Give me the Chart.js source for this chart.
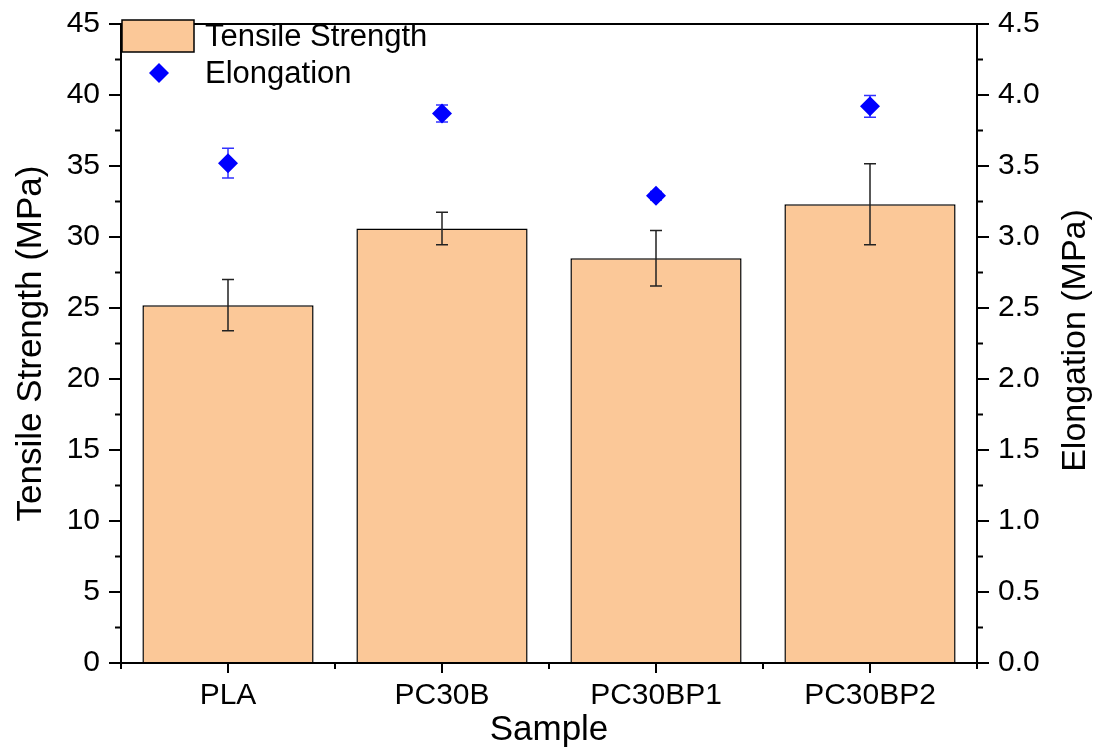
<!DOCTYPE html>
<html lang="en">

<head>
    <meta charset="UTF-8">
    <title>Tensile Strength and Elongation</title>
    <script src="https://cdn.jsdelivr.net/npm/chart.js"></script>
    <style>
        html, body { margin: 0; padding: 0; background: #fff; }
    </style>
</head>

<body>
    <canvas id="myChart" width="1098" height="753"></canvas>
    <script>
        const samples = ['PLA', 'PC30B', 'PC30BP1', 'PC30BP2'];
        const tensile = [25.2, 30.6, 28.5, 32.3];
        const tensileErr = [1.8, 1.15, 1.95, 2.85];
        const elongation = [3.52, 3.87, 3.29, 3.92];
        const elongationErr = [0.105, 0.06, 0.03, 0.077];

        const FONT = '"Liberation Sans", Arial, sans-serif';
        const barColor = 'rgb(251, 200, 152)';

        // error bars, minor ticks, top frame, legend and right-hand title
        const extras = {
            id: 'extras',
            afterDatasetDraw(chart, args) {
                if (args.index !== 0) return;
                const ctx = chart.ctx;
                const x = chart.scales.x, y = chart.scales.y, y2 = chart.scales.y2;
                const cap = 6;
                ctx.save();
                ctx.lineWidth = 1.5;
                ctx.strokeStyle = '#222';
                tensile.forEach((v, i) => {
                    const px = x.getPixelForValue(i);
                    const hi = y.getPixelForValue(v + tensileErr[i]);
                    const lo = y.getPixelForValue(v - tensileErr[i]);
                    ctx.beginPath();
                    ctx.moveTo(px, hi); ctx.lineTo(px, lo);
                    ctx.moveTo(px - cap, hi); ctx.lineTo(px + cap, hi);
                    ctx.moveTo(px - cap, lo); ctx.lineTo(px + cap, lo);
                    ctx.stroke();
                });
                ctx.strokeStyle = 'rgb(50, 50, 255)';
                elongation.forEach((v, i) => {
                    const px = x.getPixelForValue(i);
                    const hi = y2.getPixelForValue(v + elongationErr[i]);
                    const lo = y2.getPixelForValue(v - elongationErr[i]);
                    ctx.beginPath();
                    ctx.moveTo(px, hi); ctx.lineTo(px, lo);
                    ctx.moveTo(px - cap, hi); ctx.lineTo(px + cap, hi);
                    ctx.moveTo(px - cap, lo); ctx.lineTo(px + cap, lo);
                    ctx.stroke();
                });
                ctx.restore();
            },
            afterDraw(chart) {
                const ctx = chart.ctx;
                const area = chart.chartArea;
                const x = chart.scales.x, y = chart.scales.y, y2 = chart.scales.y2;
                ctx.save();
                ctx.strokeStyle = '#000';
                ctx.lineWidth = 2;

                // top frame
                ctx.beginPath();
                ctx.moveTo(area.left - 1, area.top);
                ctx.lineTo(area.right + 1, area.top);
                ctx.stroke();

                // minor ticks
                ctx.beginPath();
                for (let v = 2.5; v < 45; v += 5) {
                    const py = y.getPixelForValue(v);
                    ctx.moveTo(area.left, py); ctx.lineTo(area.left - 6, py);
                }
                for (let v = 0.25; v < 4.5; v += 0.5) {
                    const py = y2.getPixelForValue(v);
                    ctx.moveTo(area.right, py); ctx.lineTo(area.right + 6, py);
                }
                for (let i = 0; i <= samples.length; i++) {
                    const px = x.getPixelForValue(i - 0.5);
                    ctx.moveTo(px, area.bottom); ctx.lineTo(px, area.bottom + 6);
                }
                ctx.stroke();

                // legend
                ctx.fillStyle = barColor;
                ctx.fillRect(122, 20, 72, 32);
                ctx.lineWidth = 1.5;
                ctx.strokeRect(122, 20, 72, 32);
                ctx.fillStyle = '#0000ff';
                ctx.beginPath();
                ctx.moveTo(159, 63); ctx.lineTo(169, 73); ctx.lineTo(159, 83); ctx.lineTo(149, 73);
                ctx.closePath();
                ctx.fill();
                ctx.fillStyle = '#000';
                ctx.font = '31px ' + FONT;
                ctx.textAlign = 'left';
                ctx.textBaseline = 'middle';
                ctx.fillText('Tensile Strength', 205, 37);
                ctx.fillText('Elongation', 205, 74);

                // right axis title, reading bottom to top
                ctx.font = '34px ' + FONT;
                ctx.textAlign = 'center';
                ctx.translate(1076, (area.top + area.bottom) / 2 - 3);
                ctx.rotate(-Math.PI / 2);
                ctx.fillText('Elongation (MPa)', 0, 0);
                ctx.restore();
            }
        };

        const tickFont = { family: FONT, size: 30, lineHeight: 1 };
        const titleFont = { family: FONT, size: 35 };

        const ctx = document.getElementById('myChart').getContext('2d');
        const myChart = new Chart(ctx, {
            type: 'bar',
            data: {
                labels: samples,
                datasets: [{
                    label: 'Tensile Strength',
                    data: tensile,
                    backgroundColor: barColor,
                    borderColor: '#000',
                    borderWidth: 1.5,
                    barPercentage: 0.8,
                    categoryPercentage: 1,
                    yAxisID: 'y',
                    order: 2
                }, {
                    type: 'line',
                    label: 'Elongation',
                    data: elongation,
                    showLine: false,
                    pointStyle: 'rectRot',
                    pointRadius: 10,
                    pointBackgroundColor: '#0000ff',
                    pointBorderColor: '#0000ff',
                    pointBorderWidth: 0,
                    yAxisID: 'y2',
                    order: 1
                }]
            },
            plugins: [extras],
            options: {
                responsive: false,
                animation: false,
                layout: { padding: { top: 21, left: 0, right: 0, bottom: 0 } },
                plugins: {
                    legend: { display: false },
                    tooltip: { enabled: false }
                },
                scales: {
                    x: {
                        afterFit: (s) => { s.height = 90; },
                        grid: { display: true, drawOnChartArea: false, offset: false, color: '#000', lineWidth: 2, tickLength: 10 },
                        border: { display: true, color: '#000', width: 2 },
                        ticks: { color: '#000', font: tickFont, padding: 8, maxRotation: 0 },
                        title: { display: true, text: 'Sample', color: '#000', font: titleFont, padding: { top: 0, bottom: 2 } }
                    },
                    y: {
                        position: 'left',
                        min: 0,
                        max: 45,
                        afterFit: (s) => { s.width = 121; },
                        grid: { display: true, drawOnChartArea: false, color: '#000', lineWidth: 2, tickLength: 12 },
                        border: { display: true, color: '#000', width: 2 },
                        ticks: { stepSize: 5, color: '#000', font: tickFont, padding: 9 },
                        title: { display: true, text: 'Tensile Strength (MPa)', color: '#000', font: titleFont, padding: { top: 10, bottom: 0 } }
                    },
                    y2: {
                        position: 'right',
                        min: 0,
                        max: 4.5,
                        afterFit: (s) => { s.width = 121; },
                        grid: { display: true, drawOnChartArea: false, color: '#000', lineWidth: 2, tickLength: 12 },
                        border: { display: true, color: '#000', width: 2 },
                        ticks: { stepSize: 0.5, color: '#000', font: tickFont, padding: 9, callback: (v) => Number(v).toFixed(1) }
                    }
                }
            }
        });
    </script>
</body>

</html>
